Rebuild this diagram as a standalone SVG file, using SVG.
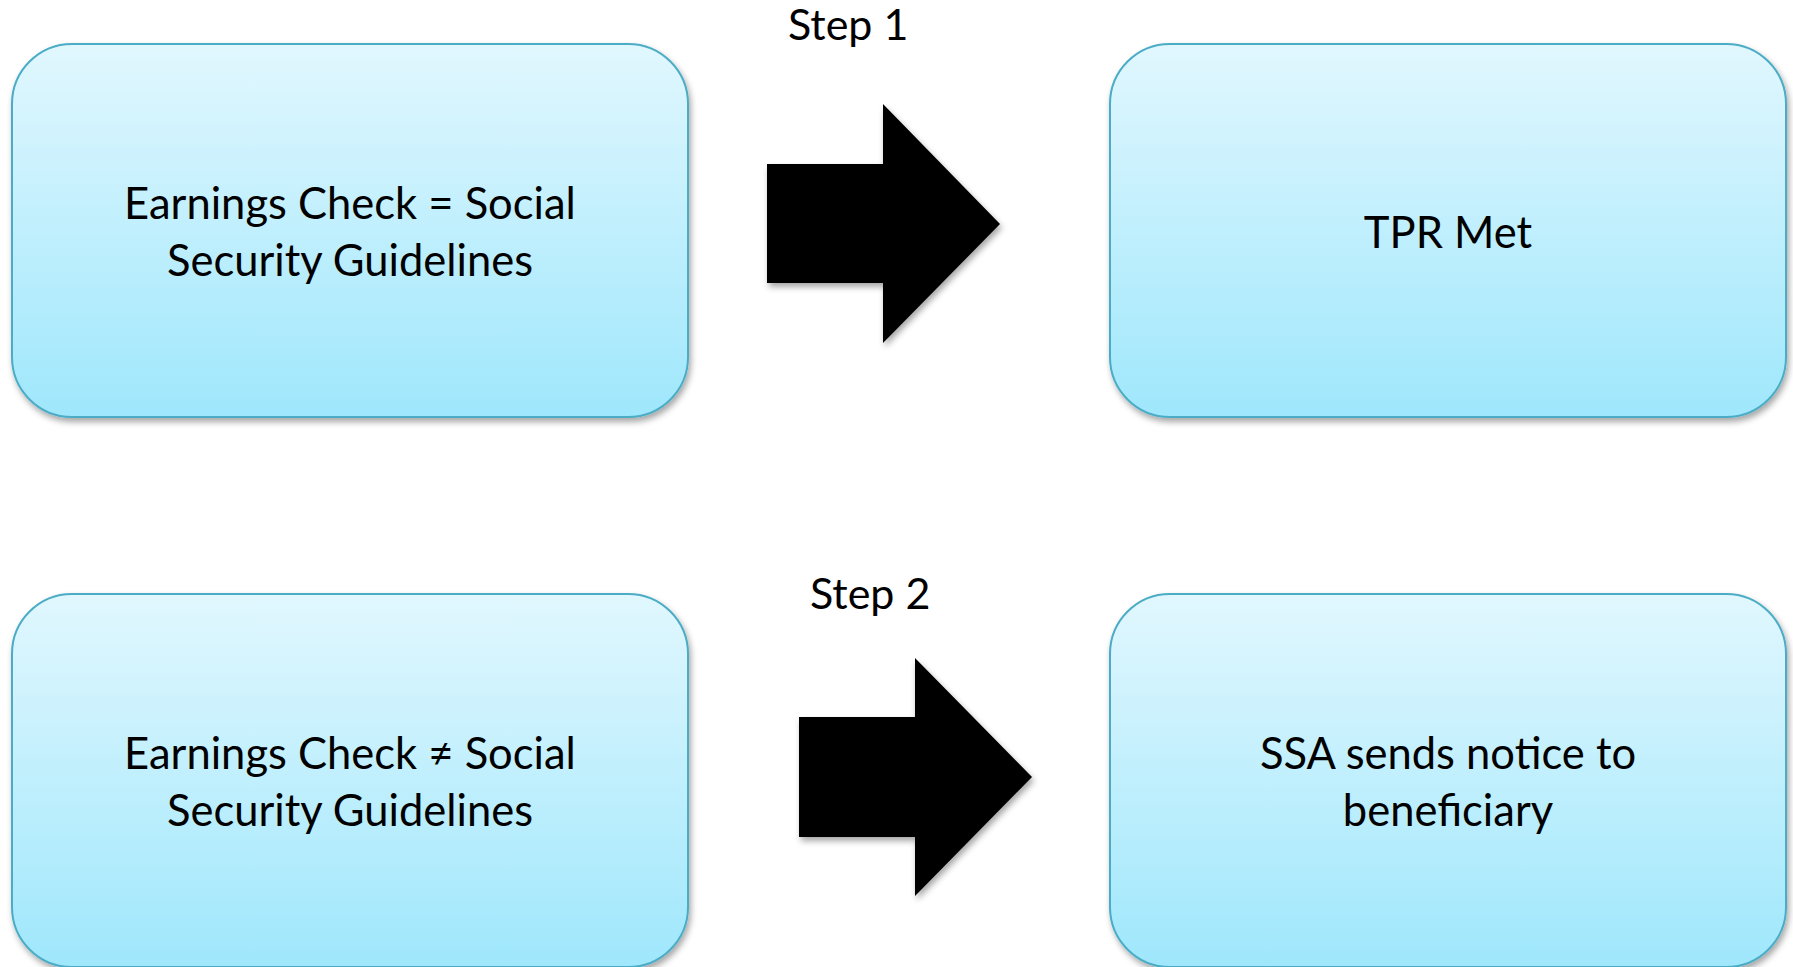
<svg xmlns="http://www.w3.org/2000/svg" width="1793" height="967" viewBox="0 0 1793 967">
  <defs>
    <linearGradient id="boxFill" x1="0" y1="0" x2="0" y2="1">
      <stop offset="0" stop-color="#E1F7FE"/>
      <stop offset="1" stop-color="#9FE7FC"/>
    </linearGradient>
    <filter id="shadow" x="-10%" y="-10%" width="120%" height="125%">
      <feDropShadow dx="2" dy="4" stdDeviation="3" flood-color="#000" flood-opacity="0.35"/>
    </filter>
  </defs>
  <style>
    .box { fill: url(#boxFill); stroke: #4BACC6; stroke-width: 2; filter: url(#shadow); }
    .label { font-family: Lato, "Open Sans", sans-serif; font-size: 43.5px; fill: #000; text-anchor: middle; }
    .step { font-family: Lato, "Open Sans", sans-serif; font-size: 43px; fill: #000; }
    .arrow { fill: #000; filter: url(#shadow); }
  </style>
  <rect width="1793" height="967" fill="#fff"/>

  <g id="node-earnings-equal">
    <rect class="box" x="12" y="44" width="676" height="373" rx="60" ry="60"/>
    <text class="label" x="350" y="219">Earnings Check = Social</text>
    <text class="label" x="350" y="276">Security Guidelines</text>
  </g>

  <g id="node-tpr-met">
    <rect class="box" x="1110" y="44" width="676" height="373" rx="60" ry="60"/>
    <text class="label" x="1448" y="248">TPR Met</text>
  </g>

  <g id="node-earnings-notequal">
    <rect class="box" x="12" y="594" width="676" height="373" rx="60" ry="60"/>
    <text class="label" x="350" y="769">Earnings Check ≠ Social</text>
    <text class="label" x="350" y="826">Security Guidelines</text>
  </g>

  <g id="node-ssa-notice">
    <rect class="box" x="1110" y="594" width="676" height="373" rx="60" ry="60"/>
    <text class="label" x="1448" y="769">SSA sends notice to</text>
    <text class="label" x="1448" y="826">beneficiary</text>
  </g>

  <g id="connectors">
    <g id="step1">
      <polygon class="arrow" points="767,164 883,164 883,104 1000,224 883,343 883,283 767,283"/>
      <text class="step" x="788" y="40">Step 1</text>
    </g>
    <g id="step2">
      <polygon class="arrow" points="799,717 915,717 915,658 1032,777 915,896 915,837 799,837"/>
      <text class="step" x="810" y="609">Step 2</text>
    </g>
  </g>
</svg>
